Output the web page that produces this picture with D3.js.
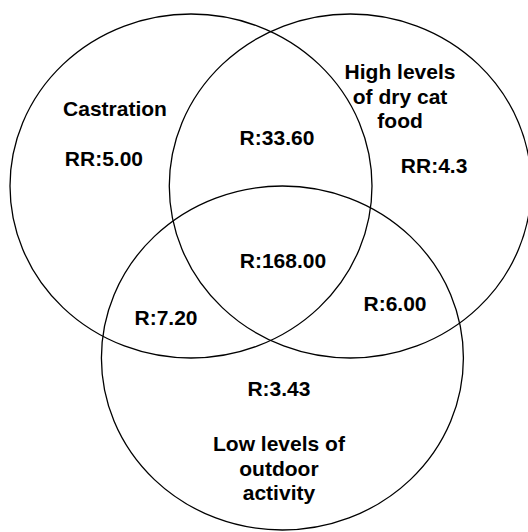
<!DOCTYPE html>
<html lang="en">
<head>
  <meta charset="UTF-8" />
  <title>Risk factors Venn</title>
  <script src="https://d3js.org/d3.v7.min.js"></script>
  <style>
    body {
      margin: 0;
      background: #fff;
      overflow: hidden;
    }
    svg {
      display: block;
    }
    text {
      font-family: "Liberation Sans", Arial, sans-serif;
      font-weight: bold;
      font-size: 21px;
      fill: #000;
    }
  </style>
</head>
<body>

<svg id="venn"></svg>

<script>
const width = 528;
const height = 532;

// sets and their single-factor risk labels
const setNames = ["Castration", "High levels of dry cat food", "Low levels of outdoor activity"];
const setNameLines = [["Castration"], ["High levels", "of dry cat", "food"], ["Low levels of", "outdoor", "activity"]];
const setValues = ["RR:5.00", "RR:4.3", "R:3.43"];

// overlap regions (indices into setNames) and their labels
const overlapSets = [[0, 1], [0, 2], [1, 2], [0, 1, 2]];
const overlapValues = ["R:33.60", "R:7.20", "R:6.00", "R:168.00"];

// layout in unit coords (circle radius = 1), mapped to pixels through scales
const layout = {
  circles: [[0, 0], [0.88, 0], [0.505, 1]],
  names: [[-0.42, -0.407], [1.155, -0.622], [0.486, 1.541]],
  values: [[-0.481, -0.116], [1.343, -0.076], [0.486, 1.221]],
  overlaps: [[0.475, -0.238], [-0.138, 0.808], [1.127, 0.727], [0.508, 0.477]]
};

const x = d3.scaleLinear().domain([0, 1]).range([191, 372]);
const y = d3.scaleLinear().domain([0, 1]).range([186, 358]);
const rx = x(1) - x(0);
const ry = y(1) - y(0);

const svg = d3.select("#venn")
  .attr("width", width)
  .attr("height", height);

svg.selectAll("ellipse")
  .data(setNames)
  .enter()
  .append("ellipse")
  .attr("cx", (d, i) => x(layout.circles[i][0]))
  .attr("cy", (d, i) => y(layout.circles[i][1]))
  .attr("rx", rx)
  .attr("ry", ry)
  .attr("fill", "none")
  .attr("stroke", "#000")
  .attr("stroke-width", 1.3);

// set names, multi-line centred
const names = svg.selectAll(".set-name")
  .data(setNameLines)
  .enter()
  .append("text")
  .attr("class", "set-name")
  .attr("text-anchor", "middle")
  .attr("x", (d, i) => x(layout.names[i][0]))
  .attr("y", (d, i) => y(layout.names[i][1]));

names.selectAll("tspan")
  .data(d => d)
  .enter()
  .append("tspan")
  .attr("x", function() { return d3.select(this.parentNode).attr("x"); })
  .attr("dy", (d, i) => i === 0 ? 0 : 24.5)
  .text(d => d);

svg.selectAll(".set-value")
  .data(setValues)
  .enter()
  .append("text")
  .attr("class", "set-value")
  .attr("text-anchor", "middle")
  .attr("x", (d, i) => x(layout.values[i][0]))
  .attr("y", (d, i) => y(layout.values[i][1]))
  .text(d => d);

svg.selectAll(".overlap")
  .data(overlapValues)
  .enter()
  .append("text")
  .attr("class", "overlap")
  .attr("text-anchor", "middle")
  .attr("x", (d, i) => x(layout.overlaps[i][0]))
  .attr("y", (d, i) => y(layout.overlaps[i][1]))
  .text(d => d);
</script>

</body>
</html>
